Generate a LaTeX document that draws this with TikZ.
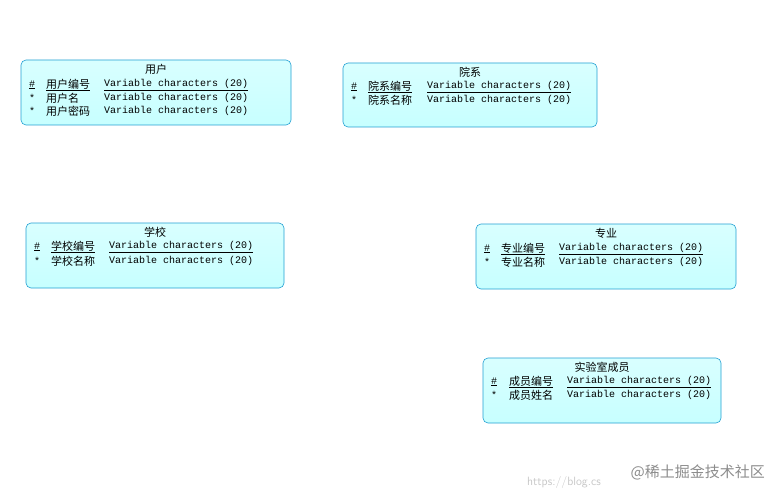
\documentclass[tikz,border=0pt]{standalone}
\usepackage{fontspec}
\setmonofont{Liberation Mono}
\newfontfamily\cjk{Noto Sans CJK SC}
\begin{document}
\begin{tikzpicture}[x=1pt,y=-1pt,
  ent/.style={draw=cyan!70!teal,rounded corners=5pt,top color=white!85!cyan,bottom color=cyan!22,line width=0.6pt},
  tt/.style={anchor=west,inner sep=0pt,font=\ttfamily\fontsize{10}{10}\selectfont},
  cn/.style={anchor=west,inner sep=0pt,font=\cjk\fontsize{11}{11}\selectfont},
  ttl/.style={inner sep=0pt,font=\cjk\fontsize{11}{11}\selectfont}]
\useasboundingbox (0,0) rectangle (779,500);
% user
\draw[ent] (21,60) rectangle (291,125);
\node[ttl] (u) at (156,69) {用户};
\node[tt] (u1s) at (29,85) {\underline{\#}};
\node[cn] (u1n) at (46,85) {\underline{用户编号}};
\node[tt] (u1t) at (104,85) {\underline{Variable characters (20)}};
\node[tt] (u2s) at (29,98) {*};
\node[cn] (u2n) at (46,98) {用户名};
\node[tt] (u2t) at (104,98) {Variable characters (20)};
\node[tt] (u3s) at (29,111) {*};
\node[cn] (u3n) at (46,111) {用户密码};
\node[tt] (u3t) at (104,111) {Variable characters (20)};
% dept
\draw[ent] (343,63) rectangle (597,127);
\node[ttl] (d) at (470,72) {院系};
\node[tt] (d1s) at (351,87) {\underline{\#}};
\node[cn] (d1n) at (368,87) {\underline{院系编号}};
\node[tt] (d1t) at (427,87) {\underline{Variable characters (20)}};
\node[tt] (d2s) at (351,100) {*};
\node[cn] (d2n) at (368,100) {院系名称};
\node[tt] (d2t) at (427,100) {Variable characters (20)};
% school
\draw[ent] (26,223) rectangle (284,288);
\node[ttl] (s) at (155,232) {学校};
\node[tt] (s1s) at (34,247) {\underline{\#}};
\node[cn] (s1n) at (51,247) {\underline{学校编号}};
\node[tt] (s1t) at (109,247) {\underline{Variable characters (20)}};
\node[tt] (s2s) at (34,261) {*};
\node[cn] (s2n) at (51,261) {学校名称};
\node[tt] (s2t) at (109,261) {Variable characters (20)};
% major
\draw[ent] (476,224) rectangle (736,289);
\node[ttl] (m) at (606,233) {专业};
\node[tt] (m1s) at (484,249) {\underline{\#}};
\node[cn] (m1n) at (501,249) {\underline{专业编号}};
\node[tt] (m1t) at (559,249) {\underline{Variable characters (20)}};
\node[tt] (m2s) at (484,262) {*};
\node[cn] (m2n) at (501,262) {专业名称};
\node[tt] (m2t) at (559,262) {Variable characters (20)};
% lab member
\draw[ent] (483,358) rectangle (721,423);
\node[ttl] (l) at (602,367) {实验室成员};
\node[tt] (l1s) at (491,382) {\underline{\#}};
\node[cn] (l1n) at (509,382) {\underline{成员编号}};
\node[tt] (l1t) at (567,382) {\underline{Variable characters (20)}};
\node[tt] (l2s) at (491,395) {*};
\node[cn] (l2n) at (509,395) {成员姓名};
\node[tt] (l2t) at (567,395) {Variable characters (20)};
% watermark
\node[anchor=west,inner sep=0pt,text=black!22,font=\sffamily\fontsize{12}{12}\selectfont] (wm1) at (527,482) {https://blog.cs};
\node[anchor=east,inner sep=0pt,text=black!45,font=\cjk\fontsize{15}{15}\selectfont] (wm2) at (765,472) {@稀土掘金技术社区};
\end{tikzpicture}
\end{document}
